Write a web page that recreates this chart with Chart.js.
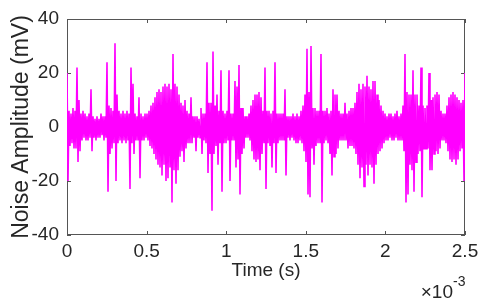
<!DOCTYPE html>
<html>
<head>
<meta charset="utf-8">
<script src="https://cdn.jsdelivr.net/npm/chart.js@4/dist/chart.umd.min.js"></script>
<style>
  html, body { margin: 0; padding: 0; background: #fff; }
  canvas { display: block; }
</style>
</head>
<body>
<canvas id="noiseChart" width="480" height="303"></canvas>
<script>
// Noise trace, one sample per pixel column across 0..2.5 ms.
// Samples alternate above/below zero so the band fills in like the original.
const SAMPLE_PERIOD = 2.5e-3 / 398;

const AMPLITUDE_MV = [
  20, -20, 6, -7, 5, -6, 7, -8, 6, -8,
  22, -13, 10, -9, 5, -5, 6, -4, 5, -5,
  4, -5, 5, -4, 14, -9, 4, -4, 3, -5,
  4, -4, 3, -4, 5, -3, 4, -5, 4, -4,
  24, -24, 8, -10, 7, -8, 6, -6, 31, -20,
  12, -6, 6, -5, 5, -6, 6, -5, 5, -6,
  6, -5, 5, -23, 22, -6, 16, -10, 5, -5,
  4, -5, 11, -19, 5, -5, 4, -5, 5, -4,
  5, -5, 6, -7, 8, -8, 9, -10, 11, -12,
  13, -14, 14, -15, 13, -18, 15, -14, 16, -20,
  15, -19, 16, -15, 14, -28, 27, -16, 16, -21,
  15, -16, 12, -11, 9, -9, 8, -13, 10, -8,
  6, -6, 5, -6, 11, -6, 4, -4, 4, -9,
  4, -4, 3, -4, 7, -10, 5, -5, 5, -6,
  24, -17, 9, -10, 9, -31, 28, -10, 8, -7,
  12, -14, 6, -6, 21, -24, 6, -6, 5, -6,
  6, -5, 21, -20, 5, -5, 5, -5, 17, -15,
  15, -12, 23, -25, 7, -10, 7, -8, 4, -4,
  4, -4, 5, -5, 8, -9, 10, -12, 12, -13,
  12, -12, 13, -16, 11, -10, 6, -6, 22, -23,
  6, -6, 6, -7, 5, -15, 6, -6, 24, -17,
  5, -6, 5, -5, 5, -5, 5, -5, 14, -18,
  4, -4, 4, -5, 4, -4, 5, -5, 4, -6,
  5, -6, 4, -5, 6, -6, 8, -9, 12, -13,
  29, -25, 13, -26, 30, -8, 7, -14, 7, -7,
  6, -6, 6, -6, 27, -28, 6, -6, 6, -5,
  7, -6, 5, -10, 6, -18, 14, -11, 12, -10,
  12, -8, 6, -5, 5, -5, 5, -5, 9, -5,
  5, -8, 6, -7, 7, -7, 7, -8, 9, -10,
  13, -14, 16, -19, 14, -15, 16, -22, 15, -14,
  19, -18, 15, -14, 14, -15, 17, -21, 17, -14,
  12, -10, 10, -9, 8, -8, 6, -6, 5, -5,
  4, -5, 5, -4, 5, -5, 4, -5, 5, -4,
  6, -5, 4, -5, 5, -5, 8, -9, 27, -28,
  13, -25, 12, -14, 12, -16, 21, -24, 12, -13,
  12, -10, 8, -9, 22, -26, 8, -8, 7, -8,
  8, -8, 20, -16, 10, -16, 11, -10, 12, -9,
  13, -10, 12, -8, 6, -5, 5, -5, 5, -6,
  8, -9, 11, -12, 12, -13, 13, -12, 12, -14,
  11, -12, 10, -9, 9, -8, 10, -20, 20,
];

const X_TICKS = [0, 0.5e-3, 1e-3, 1.5e-3, 2e-3, 2.5e-3];
const X_TICK_LABELS = ["0", "0.5", "1", "1.5", "2", "2.5"];
const Y_TICKS = [-40, -20, 0, 20, 40];

const TEXT_COLOR = "#262626";
const FONT_FAMILY = "'Liberation Sans', Arial, Helvetica, sans-serif";

// MATLAB-style box with inward tick marks plus the x10^-3 exponent label.
const matlabAxes = {
  id: "matlabAxes",
  beforeDatasetsDraw(chart) {
    const { ctx, chartArea: a, scales } = chart;
    ctx.save();
    ctx.strokeStyle = "#555";
    ctx.lineWidth = 1;
    ctx.strokeRect(a.left + 0.5, a.top + 0.5, a.right - a.left - 1, a.bottom - a.top - 1);
    ctx.beginPath();
    X_TICKS.forEach((v) => {
      const x = Math.round(scales.x.getPixelForValue(v)) + 0.5;
      ctx.moveTo(x, a.bottom); ctx.lineTo(x, a.bottom - 4);
      ctx.moveTo(x, a.top); ctx.lineTo(x, a.top + 4);
    });
    Y_TICKS.forEach((v) => {
      const y = Math.round(scales.y.getPixelForValue(v)) + 0.5;
      ctx.moveTo(a.left, y); ctx.lineTo(a.left + 4, y);
      ctx.moveTo(a.right, y); ctx.lineTo(a.right - 4, y);
    });
    ctx.stroke();
    ctx.restore();
  },
  afterDraw(chart) {
    const { ctx } = chart;
    ctx.save();
    ctx.fillStyle = TEXT_COLOR;
    ctx.textBaseline = "alphabetic";
    ctx.textAlign = "right";
    ctx.font = `19px ${FONT_FAMILY}`;
    ctx.fillText("\u00d710", 453, 298);
    ctx.textAlign = "left";
    ctx.font = `14px ${FONT_FAMILY}`;
    ctx.fillText("-3", 453, 286);
    ctx.restore();
  },
};

const points = AMPLITUDE_MV.map((v, i) => ({ x: i * SAMPLE_PERIOD, y: v }));

new Chart(document.getElementById("noiseChart").getContext("2d"), {
  type: "line",
  data: {
    datasets: [{
      data: points,
      borderColor: "#ff00ff",
      borderWidth: 1.6,
      pointRadius: 0,
      tension: 0,
      fill: false,
    }],
  },
  options: {
    responsive: false,
    animation: false,
    devicePixelRatio: 1,
    layout: { padding: { left: 0, right: 15, top: 19, bottom: 0 } },
    plugins: { legend: { display: false }, tooltip: { enabled: false } },
    scales: {
      x: {
        type: "linear",
        min: 0,
        max: 2.5e-3,
        grid: { display: false, drawTicks: false },
        border: { display: false },
        afterBuildTicks: (scale) => { scale.ticks = X_TICKS.map((value) => ({ value })); },
        afterFit: (scale) => {
          scale.height = 68;
          scale.paddingLeft = 0;
          scale.paddingRight = 0;
        },
        ticks: {
          color: TEXT_COLOR,
          font: { family: FONT_FAMILY, size: 19 },
          padding: 5,
          maxRotation: 0,
          callback: (value, i) => X_TICK_LABELS[i],
        },
        title: {
          display: true,
          text: "Time (s)",
          color: TEXT_COLOR,
          font: { family: FONT_FAMILY, size: 19 },
          padding: { top: 0, bottom: 21 },
        },
      },
      y: {
        min: -40,
        max: 40,
        grid: { display: false, drawTicks: false },
        border: { display: false },
        afterBuildTicks: (scale) => { scale.ticks = Y_TICKS.map((value) => ({ value })); },
        afterFit: (scale) => {
          scale.width = 67;
          scale.paddingTop = 0;
          scale.paddingBottom = 0;
        },
        ticks: {
          color: TEXT_COLOR,
          font: { family: FONT_FAMILY, size: 19 },
          padding: 8,
        },
        title: {
          display: true,
          text: "Noise Amplitude (mV)",
          color: TEXT_COLOR,
          font: { family: FONT_FAMILY, size: 23 },
          padding: { top: 8, bottom: 0 },
        },
      },
    },
  },
  plugins: [matlabAxes],
});
</script>
</body>
</html>
